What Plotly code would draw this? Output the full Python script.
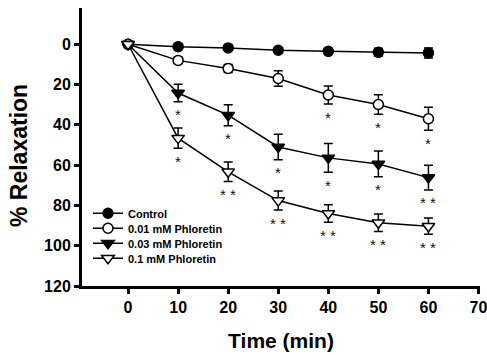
import plotly.graph_objects as go

# ---- data ----
time_min = [0, 10, 20, 30, 40, 50, 60]

control = [0, 1.2, 1.8, 3.0, 3.5, 4.0, 4.3]
control_err = [0, 0.5, 0.8, 1.0, 1.5, 2.0, 2.5]

phl_001 = [0, 8.0, 12.0, 17.0, 25.2, 29.9, 37.0]
phl_001_err = [0, 1.5, 2.0, 3.8, 4.5, 4.8, 5.7]

phl_003 = [0, 24.2, 35.2, 51.0, 56.4, 59.4, 66.2]
phl_003_err = [0, 4.3, 5.2, 6.3, 7.1, 6.4, 6.1]

phl_01 = [0, 46.6, 63.3, 77.6, 84.0, 88.6, 90.3]
phl_01_err = [0, 5.0, 4.8, 4.7, 4.3, 4.3, 4.0]

sig_control = ["", "", "", "", "", "", ""]
sig_001 = ["", "", "", "", "*", "*", "*"]
sig_003 = ["", "*", "*", "*", "*", "*", "* *"]
sig_01 = ["", "*", "* *", "* *", "* *", "* *", "* *"]

series_names = ["Control", "0.01 mM Phloretin", "0.03 mM Phloretin", "0.1 mM Phloretin"]
x_ticks = [0, 10, 20, 30, 40, 50, 60, 70]
y_ticks = [0, 20, 40, 60, 80, 100, 120]
x_title = "Time (min)"
y_title = "% Relaxation"

# ---- styling ----
FONT = "Liberation Sans, Arial, Helvetica, sans-serif"
series = [
    (control, control_err, sig_control, "circle", "black"),
    (phl_001, phl_001_err, sig_001, "circle", "white"),
    (phl_003, phl_003_err, sig_003, "triangle-down", "black"),
    (phl_01, phl_01_err, sig_01, "triangle-down", "white"),
]
legend_ids = ["legend", "legend2", "legend3", "legend4"]
legend_y = [0.2615, 0.2076, 0.1536, 0.0996]

fig = go.Figure()
annotations = []
for (vals, errs, sig, sym, fill), name, lid in zip(series, series_names, legend_ids):
    fig.add_trace(go.Scatter(
        x=time_min, y=vals, name=name, mode="lines+markers",
        line=dict(color="black", width=1.5),
        marker=dict(symbol=sym, size=10 if sym == "circle" else 11, color=fill,
                    line=dict(color="black", width=1.5)),
        error_y=dict(type="data", array=errs, visible=True, color="black",
                     thickness=1.5, width=4.5),
        legend=lid,
    ))
    for t, v, e, s in zip(time_min, vals, errs, sig):
        if s:
            annotations.append(dict(
                x=t, y=v + e, text=s, showarrow=False, xanchor="center",
                yanchor="middle", yshift=-13,
                font=dict(family=FONT, size=15, color="#111"),
            ))

# y-axis title as a rotated annotation (placed slightly below plot centre, as in the original)
annotations.append(dict(
    xref="paper", yref="paper", x=-0.158, y=0.468, text=y_title,
    textangle=-90, showarrow=False, xanchor="center", yanchor="middle",
    font=dict(family=FONT, size=23, color="black", weight="bold"),
))

layout_legends = {}
for lid, ly in zip(legend_ids, legend_y):
    layout_legends[lid] = dict(
        x=0.015, y=ly, xanchor="left", yanchor="middle",
        bgcolor="rgba(0,0,0,0)", borderwidth=0,
        font=dict(family=FONT, size=11, color="black", weight="bold"),
        itemclick=False,
    )

fig.update_layout(
    width=487, height=355,
    margin=dict(l=82, r=7, t=8, b=69, autoexpand=False),
    paper_bgcolor="white", plot_bgcolor="white",
    showlegend=True,
    annotations=annotations,
    font=dict(family=FONT, color="black"),
    **layout_legends,
)

fig.update_xaxes(
    automargin=False,
    range=[-9.2, 70.3], tickvals=x_ticks, ticktext=[str(v) for v in x_ticks],
    showgrid=False, zeroline=False,
    showline=True, linewidth=3, linecolor="black",
    ticks="outside", ticklen=5, tickwidth=2.5, tickcolor="black",
    ticklabeloverflow="allow",
    tickfont=dict(family=FONT, size=16, color="black", weight="bold"),
    title=dict(text=x_title, font=dict(family=FONT, size=21, weight="bold"),
               standoff=19),
)
fig.update_yaxes(
    automargin=False,
    range=[120, -18], tickvals=y_ticks, ticktext=[str(v) for v in y_ticks],
    showgrid=False, zeroline=False,
    showline=True, linewidth=3, linecolor="black",
    ticks="outside", ticklen=5, tickwidth=2.5, tickcolor="black",
    tickfont=dict(family=FONT, size=16, color="black", weight="bold"),
)

fig.write_html(
    "out.html",
    config={"displayModeBar": False},
    post_script="document.body.style.margin='0';document.body.style.overflow='hidden';",
)
